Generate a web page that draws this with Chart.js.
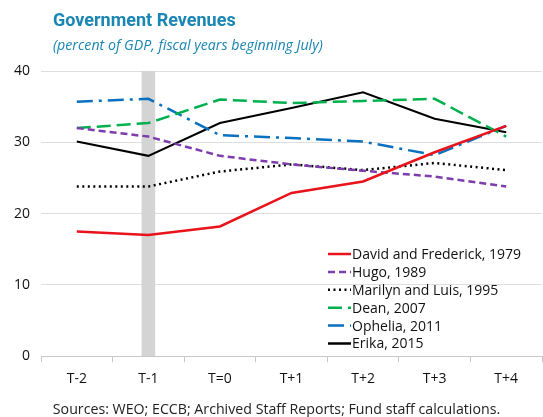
<!DOCTYPE html>
<html>
<head>
<meta charset="utf-8">
<script src="https://cdn.jsdelivr.net/npm/chart.js@4/dist/chart.umd.min.js"></script>
<style>
  html,body{margin:0;padding:0;background:#fff;}
  #wrap{position:relative;width:543px;height:417px;font-family:"Open Sans",sans-serif;}
  #ttl{position:absolute;left:53px;top:9px;font-family:Roboto,sans-serif;font-size:18px;font-weight:bold;color:#1a86b3;}
  #sub{position:absolute;left:53px;top:35px;font-size:14.2px;font-style:italic;color:#1a86b3;}
  #src{position:absolute;left:0;width:543px;top:399px;text-align:center;font-size:14.2px;color:#222;padding-left:10px;box-sizing:border-box;}
  #c{position:absolute;left:0;top:0;}
</style>
</head>
<body>
<div id="wrap">
  <canvas id="c" width="543" height="417"></canvas>
  <div id="ttl">Government Revenues</div>
  <div id="sub">(percent of GDP, fiscal years beginning July)</div>
  <div id="src">Sources: WEO; ECCB; Archived Staff Reports; Fund staff calculations.</div>
</div>
<script>
'use strict';
var labels   = ['T-2', 'T-1', 'T=0', 'T+1', 'T+2', 'T+3', 'T+4'];
var david    = [17.5, 17.0, 18.2, 22.9, 24.5, 28.6, 32.3];
var hugo     = [32.0, 30.8, 28.1, 26.9, 26.0, 25.2, 23.8];
var marilyn  = [23.8, 23.8, 25.9, 26.9, 26.1, 27.1, 26.1];
var dean     = [32.0, 32.7, 36.0, 35.5, 35.8, 36.1, 30.8];
var ophelia  = [35.7, 36.1, 31.0, 30.6, 30.1, 28.2, 32.3];
var erika    = [30.1, 28.1, 32.7, 34.8, 37.0, 33.3, 31.4];
var band     = [null, 40, null, null, null, null, null];
var yTicks   = [0, 10, 20, 30, 40];
var FONT = '"Open Sans", sans-serif';

function ln(label, data, color, dash, w) {
    return { type: 'line', label: label, data: data, borderColor: color, backgroundColor: color,
             borderDash: dash, borderWidth: w || 2.5, pointRadius: 0, tension: 0, fill: false, order: 1 };
}

// legend drawn inside plot, lower right
var legendInside = {
    id: 'legendInside',
    afterDraw: function(chart) {
        var ctx = chart.ctx;
        var x0 = 328, y0 = 254, step = 17.9;
        ctx.save();
        ctx.font = '14px ' + FONT;
        ctx.textBaseline = 'middle';
        chart.data.datasets.forEach(function(ds, i) {
            if (ds.type !== 'line') return;
            var y = y0 + (i - 1) * step;
            ctx.beginPath();
            ctx.setLineDash(ds.borderDash || []);
            ctx.strokeStyle = ds.borderColor;
            ctx.lineWidth = 2.5;
            ctx.moveTo(x0, y);
            ctx.lineTo(x0 + 23, y);
            ctx.stroke();
            ctx.setLineDash([]);
            ctx.fillStyle = '#111';
            ctx.fillText(ds.label, x0 + 24, y + 1);
        });
        ctx.restore();
    }
};

new Chart(document.getElementById('c'), {
    type: 'line',
    data: {
        labels: labels,
        datasets: [
            { type: 'bar', label: 'band', data: band, backgroundColor: '#d4d4d4', barThickness: 13, order: 5 },
            ln('David and Frederick, 1979', david, '#e8131b', []),
            ln('Hugo, 1989', hugo, '#7e3dae', [7, 4]),
            ln('Marilyn and Luis, 1995', marilyn, '#000000', [2, 3.5]),
            ln('Dean, 2007', dean, '#00b04f', [14, 6]),
            ln('Ophelia, 2011', ophelia, '#0a70c0', [16, 6, 3, 6]),
            ln('Erika, 2015', erika, '#000000', [], 2)
        ]
    },
    options: {
        responsive: false,
        animation: false,
        layout: { padding: { top: 71, left: 3, right: 1, bottom: 22 } },
        plugins: { legend: { display: false }, tooltip: { enabled: false } },
        scales: {
            x: {
                offset: true,
                grid: { offset: true, drawOnChartArea: false, tickLength: 6, color: '#c8c8c8' },
                border: { color: '#c8c8c8' },
                ticks: { color: '#111', font: { size: 14, family: FONT }, padding: 8 }
            },
            y: {
                min: 0, max: 40,
                afterBuildTicks: function(s) { s.ticks = yTicks.map(function(v) { return { value: v }; }); },
                grid: { color: '#dedede', drawTicks: false },
                border: { display: false },
                ticks: { color: '#111', font: { size: 14, family: FONT }, padding: 11 }
            }
        }
    },
    plugins: [legendInside]
});
</script>
</body>
</html>
